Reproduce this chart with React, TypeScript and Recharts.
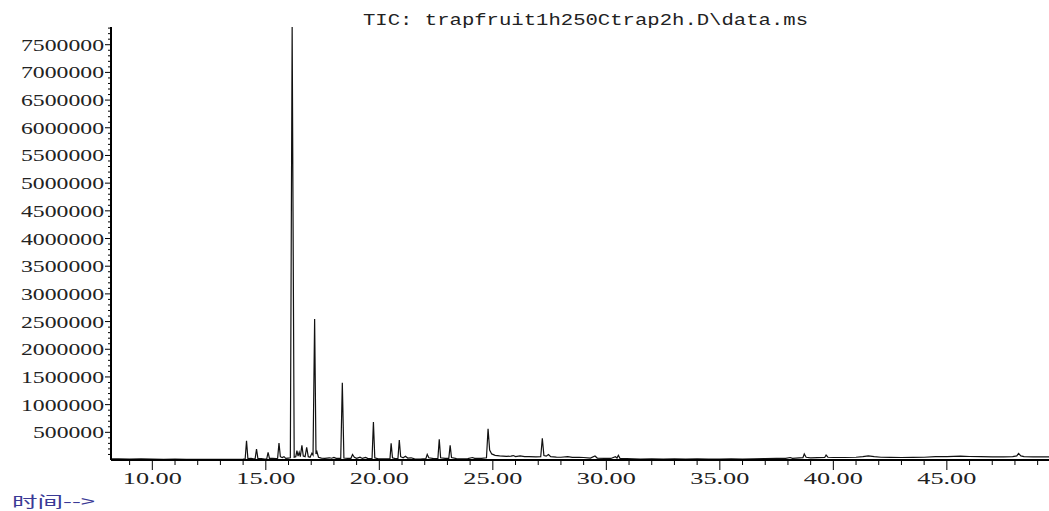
import { LineChart, Line, XAxis, YAxis } from 'recharts';

// TIC chromatogram, abundance vs retention time (min)
// each segment is a list of [time, abundance] points

const earlyBaseline: [number, number][] = [
  [8.18, 20000], [8.5, 22000], [9.0, 18000], [9.5, 20000], [10.0, 15000],
  [10.5, 14000], [11.0, 15000], [11.5, 12000], [12.0, 13000], [12.5, 14000],
  [13.0, 12000], [13.5, 14000], [14.0, 15000],
];

const firstCluster: [number, number][] = [
  [14.09, 18000], [14.15, 348000], [14.21, 25000], [14.35, 30000], [14.45, 22000],
  [14.53, 24000], [14.59, 199000], [14.65, 30000], [14.8, 25000], [14.95, 18000],
  [15.04, 22000], [15.1, 139000], [15.16, 30000], [15.3, 28000], [15.45, 25000],
  [15.52, 30000], [15.58, 307000], [15.64, 60000], [15.72, 45000], [15.8, 60000],
  [15.88, 30000], [15.98, 35000], [16.08, 40000], [16.16, 7820000], [16.25, 50000],
  [16.32, 60000], [16.37, 168000], [16.42, 70000], [16.47, 140000], [16.52, 60000],
  [16.59, 265000], [16.65, 70000], [16.73, 60000], [16.8, 229000], [16.87, 60000],
  [16.95, 50000], [17.03, 121000], [17.08, 90000], [17.15, 2545000], [17.21, 110000],
  [17.25, 150000], [17.32, 50000], [17.45, 35000],
];

const midRegion: [number, number][] = [
  [17.6, 30000], [17.8, 40000], [17.9, 32000], [18.0, 45000], [18.1, 30000],
  [18.3, 28000], [18.37, 1395000], [18.44, 35000], [18.6, 28000], [18.75, 30000],
  [18.82, 100000], [18.9, 50000], [19.0, 30000], [19.15, 50000], [19.25, 28000],
  [19.4, 45000], [19.5, 25000], [19.68, 28000], [19.74, 686000], [19.8, 40000],
  [19.95, 22000], [20.2, 20000], [20.4, 22000], [20.47, 25000], [20.52, 300000],
  [20.58, 40000], [20.7, 25000], [20.82, 30000], [20.88, 361000], [20.94, 60000],
  [21.05, 40000], [21.15, 67000], [21.25, 35000], [21.4, 40000], [21.55, 20000],
  [21.8, 18000], [22.05, 25000], [22.11, 103000], [22.18, 40000], [22.4, 25000],
  [22.58, 28000], [22.64, 374000], [22.7, 40000], [22.9, 28000], [23.06, 30000],
  [23.12, 265000], [23.18, 45000], [23.4, 25000], [23.7, 22000], [23.9, 25000],
  [24.1, 45000], [24.2, 30000], [24.5, 30000], [24.72, 40000],
];

const lateRegion: [number, number][] = [
  [24.79, 565000], [24.86, 180000], [24.95, 110000], [25.1, 85000], [25.3, 75000],
  [25.6, 65000], [25.8, 70000], [25.9, 80000], [26.0, 62000], [26.2, 75000],
  [26.4, 60000], [26.6, 62000], [26.9, 55000], [27.11, 58000], [27.18, 392000],
  [27.25, 80000], [27.35, 70000], [27.45, 100000], [27.55, 60000], [27.8, 52000],
  [28.0, 50000], [28.3, 60000], [28.5, 48000], [28.8, 48000], [29.0, 45000],
  [29.3, 35000], [29.5, 72000], [29.6, 35000], [29.9, 30000], [30.2, 28000],
  [30.4, 60000], [30.47, 35000], [30.53, 85000], [30.6, 30000], [30.9, 25000],
];

const tailRegion: [number, number][] = [
  [31.5, 18000], [32.0, 20000], [32.5, 18000], [33.0, 20000], [33.5, 18000],
  [34.0, 20000], [34.5, 17000], [35.0, 18000], [35.5, 20000], [36.0, 18000],
  [36.5, 22000], [37.0, 25000], [37.5, 30000], [37.9, 28000], [38.1, 45000],
  [38.2, 30000], [38.5, 38000], [38.66, 40000], [38.72, 108000], [38.8, 50000],
  [39.0, 40000], [39.3, 42000], [39.62, 45000], [39.68, 90000], [39.76, 50000],
  [40.0, 45000], [40.5, 45000], [41.0, 50000], [41.3, 62000], [41.54, 75000],
  [41.8, 62000], [42.1, 50000], [42.5, 48000], [43.0, 45000], [43.5, 48000],
  [44.0, 50000], [44.5, 60000], [45.0, 62000], [45.6, 70000], [46.0, 63000],
  [46.5, 60000], [47.0, 58000], [47.5, 58000], [47.9, 60000], [48.08, 75000],
  [48.16, 120000], [48.26, 75000], [48.4, 60000], [48.8, 55000], [49.2, 55000],
  [49.5, 55000],
];

const yLabels = [
  500000, 1000000, 1500000, 2000000, 2500000, 3000000, 3500000, 4000000,
  4500000, 5000000, 5500000, 6000000, 6500000, 7000000, 7500000,
];
const xLabels = [10, 15, 20, 25, 30, 35, 40, 45];

const title = 'TIC: trapfruit1h250Ctrap2h.D\\data.ms';
const xTitle = '时间-->';

const trace = [...earlyBaseline, ...firstCluster, ...midRegion, ...lateRegion, ...tailRegion]
  .map(([t, v]) => ({ t, v }));

const yTicks: number[] = [];
for (let v = 100000; v <= 7800000; v += 100000) yTicks.push(v);
const xTicks: number[] = [];
for (let t = 9; t <= 49; t++) xTicks.push(t);

const YTick = (props: any) => {
  const { x, y, payload } = props;
  const major = yLabels.includes(payload.value);
  const label = String(payload.value);
  return (
    <g>
      <line x1={x - (major ? 6 : 3)} x2={x} y1={y} y2={y} stroke="#000" strokeWidth={1} />
      {major && (
        <text
          x={x - 7}
          y={y + 6}
          textAnchor="end"
          fontFamily="'Liberation Serif', serif"
          fontSize={17}
          fill="#222"
          textLength={label.length * 12 - 1}
          lengthAdjust="spacingAndGlyphs"
        >
          {label}
        </text>
      )}
    </g>
  );
};

const XTick = (props: any) => {
  const { x, y, payload } = props;
  const major = xLabels.includes(payload.value);
  return (
    <g>
      <line x1={x} x2={x} y1={y} y2={y + (major ? 10 : 5)} stroke="#000" strokeWidth={1} />
      {major && (
        <text
          x={x}
          y={y + 24}
          textAnchor="middle"
          fontFamily="'Liberation Serif', serif"
          fontSize={17}
          fill="#222"
          textLength={59}
          lengthAdjust="spacingAndGlyphs"
        >
          {payload.value.toFixed(2)}
        </text>
      )}
    </g>
  );
};

export default function App() {
  return (
    <div style={{ position: 'absolute', left: 0, top: 0, width: 1049, height: 511, background: '#fff' }}>
      <LineChart width={1049} height={511} data={trace} margin={{ top: 27, right: 0, left: 0, bottom: 0 }}>
        <XAxis
          dataKey="t"
          type="number"
          domain={[8.18, 49.5]}
          allowDataOverflow
          ticks={xTicks}
          interval={0}
          tickSize={0}
          tickMargin={0}
          tickLine={false}
          tick={<XTick />}
          height={51}
          axisLine={{ stroke: '#000', strokeWidth: 2 }}
        />
        <YAxis
          type="number"
          domain={[0, 7820000]}
          allowDataOverflow
          ticks={yTicks}
          interval={0}
          tickSize={0}
          tickMargin={0}
          tickLine={false}
          tick={<YTick />}
          width={111}
          axisLine={{ stroke: '#000', strokeWidth: 2 }}
        />
        <Line
          type="linear"
          dataKey="v"
          stroke="#111"
          strokeWidth={1.2}
          dot={false}
          isAnimationActive={false}
        />
      </LineChart>
      <svg
        width={1049}
        height={511}
        style={{ position: 'absolute', left: 0, top: 0, pointerEvents: 'none' }}
      >
        <text
          x={363}
          y={25}
          fontFamily="'Liberation Mono', monospace"
          fontSize={16}
          fill="#222"
          textLength={445}
          lengthAdjust="spacingAndGlyphs"
        >
          {title}
        </text>
        <text
          x={12}
          y={507}
          fontFamily="'Noto Sans CJK SC', sans-serif"
          fontSize={15}
          fill="#3a3a96"
          textLength={83}
          lengthAdjust="spacingAndGlyphs"
        >
          {xTitle}
        </text>
      </svg>
    </div>
  );
}
